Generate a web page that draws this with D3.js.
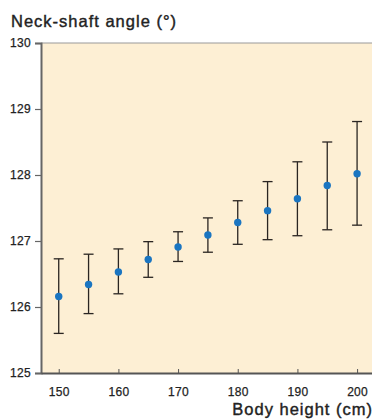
<!DOCTYPE html>
<html>
<head>
<meta charset="utf-8">
<script src="https://cdn.jsdelivr.net/npm/d3@7"></script>
<style>
  body { margin: 0; background: #fff; }
  svg { display: block; font-family: "Liberation Sans", Arial, sans-serif; }
</style>
</head>
<body>
<div id="chart"></div>
<script>
'use strict';

var heights = [150, 155, 160, 165, 170, 175, 180, 185, 190, 195, 200];
var means   = [126.16, 126.34, 126.53, 126.72, 126.91, 127.09, 127.28, 127.46, 127.64, 127.84, 128.02];
var upper   = [126.73, 126.80, 126.88, 126.99, 127.14, 127.35, 127.61, 127.90, 128.20, 128.50, 128.81];
var lower   = [125.60, 125.90, 126.20, 126.45, 126.69, 126.83, 126.95, 127.02, 127.08, 127.17, 127.24];
var xTicks  = [150, 160, 170, 180, 190, 200];
var yTicks  = [125, 126, 127, 128, 129, 130];

var width = 372, height = 420;
var plotLeft = 41, plotRight = 372, plotTop = 43, plotBottom = 373;

var svg = d3.select('#chart')
    .append('svg')
    .attr('width', width)
    .attr('height', height);

var x = d3.scaleLinear().domain([147.03, 202.5]).range([plotLeft, plotRight]);
var y = d3.scaleLinear().domain([125, 130]).range([plotBottom, plotTop]);

var data = heights.map(function (h, i) {
    return { h: h, m: means[i], hi: upper[i], lo: lower[i] };
});

// background
svg.append('rect')
    .attr('x', plotLeft).attr('y', plotTop)
    .attr('width', plotRight - plotLeft).attr('height', plotBottom - plotTop)
    .attr('fill', '#fdefd4');

// top border
svg.append('line')
    .attr('x1', plotLeft).attr('x2', plotRight)
    .attr('y1', plotTop).attr('y2', plotTop)
    .attr('stroke', '#9a9a9a').attr('stroke-width', 1.2);

// y axis
var yAxis = svg.append('g')
    .attr('transform', 'translate(' + plotLeft + ',0)')
    .call(d3.axisLeft(y).tickValues(yTicks).tickSize(6).tickPadding(4).tickFormat(d3.format('d')));
yAxis.select('.domain').attr('stroke', '#666').attr('stroke-width', 2);
yAxis.selectAll('.tick line').attr('stroke', '#666').attr('stroke-width', 1.2);
yAxis.selectAll('.tick text')
    .attr('fill', '#222')
    .attr('stroke', '#222').attr('stroke-width', 0.25)
    .style('font-size', '12px').style('letter-spacing', '0.3px');

// x axis
var xAxis = svg.append('g')
    .attr('transform', 'translate(0,' + plotBottom + ')')
    .call(d3.axisBottom(x).tickValues(xTicks).tickSizeInner(-4).tickSizeOuter(0).tickPadding(14).tickFormat(d3.format('d')));
xAxis.select('.domain').attr('stroke', '#555').attr('stroke-width', 2);
xAxis.selectAll('.tick line').attr('stroke', '#555').attr('stroke-width', 1);
xAxis.selectAll('.tick text')
    .attr('fill', '#222')
    .attr('stroke', '#222').attr('stroke-width', 0.25)
    .style('font-size', '12px').style('letter-spacing', '0.3px');

// error bars
var bars = svg.append('g').selectAll('.bar')
    .data(data)
    .enter()
    .append('g')
    .attr('class', 'bar');

bars.append('line')
    .attr('x1', function (d) { return x(d.h); })
    .attr('x2', function (d) { return x(d.h); })
    .attr('y1', function (d) { return y(d.hi); })
    .attr('y2', function (d) { return y(d.lo); })
    .attr('stroke', '#2a2522').attr('stroke-width', 1.3);

['hi', 'lo'].forEach(function (k) {
    bars.append('line')
        .attr('x1', function (d) { return x(d.h) - 5; })
        .attr('x2', function (d) { return x(d.h) + 5; })
        .attr('y1', function (d) { return y(d[k]); })
        .attr('y2', function (d) { return y(d[k]); })
        .attr('stroke', '#2a2522').attr('stroke-width', 1.3);
});

bars.append('circle')
    .attr('cx', function (d) { return x(d.h); })
    .attr('cy', function (d) { return y(d.m); })
    .attr('r', 3.7)
    .attr('fill', '#1a75c1');

// titles
svg.append('text')
    .attr('x', 11).attr('y', 26.5)
    .attr('fill', '#222')
    .attr('stroke', '#222').attr('stroke-width', 0.4)
    .style('font-size', '16.5px')
    .style('letter-spacing', '1px')
    .text('Neck-shaft angle (°)');

svg.append('text')
    .attr('x', 373).attr('y', 414.7)
    .attr('text-anchor', 'end')
    .attr('fill', '#222')
    .attr('stroke', '#222').attr('stroke-width', 0.4)
    .style('font-size', '16.5px')
    .style('letter-spacing', '1px')
    .text('Body height (cm)');
</script>
</body>
</html>
